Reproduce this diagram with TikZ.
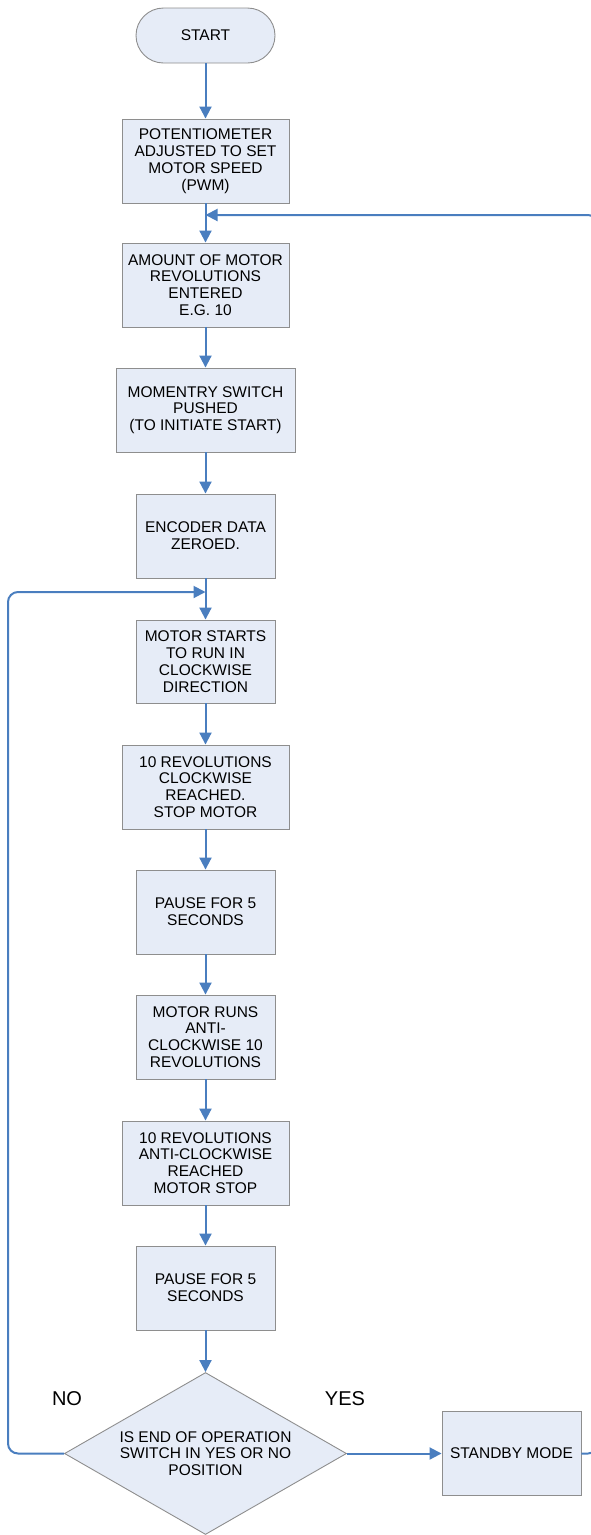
\documentclass[tikz,border=0pt]{standalone}
\usepackage{fontspec}
\setmainfont{Liberation Sans}
\usetikzlibrary{shapes.geometric,arrows.meta}
\definecolor{boxfill}{HTML}{E6ECF7}
\definecolor{boxline}{HTML}{8E8E8E}
\definecolor{flow}{HTML}{4A7EBF}
\tikzset{
  stepbox/.style={draw=boxline, fill=boxfill, line width=0.9pt, align=center, inner sep=0pt,
    font=\fontsize{15.5}{16.8}\selectfont, minimum height=84pt},
  termbox/.style={stepbox, rounded corners=27.5pt, minimum height=55pt, minimum width=139pt},
  decbox/.style={draw=boxline, fill=boxfill, line width=0.9pt, diamond, aspect=1.75, align=center,
    inner sep=0pt, minimum width=282pt, minimum height=162pt, font=\fontsize{15.5}{16.8}\selectfont},
  flowline/.style={draw=flow, line width=2pt, -{Triangle[length=12pt,width=12pt]}},
  lbl/.style={font=\fontsize{20}{22}\selectfont, inner sep=0pt}
}
\begin{document}
\begin{tikzpicture}[x=1pt,y=-1pt]
\useasboundingbox (0,0) rectangle (591,1535);
\node[termbox] (start) at (205.5,35.5) {START};
\node[stepbox, minimum width=167pt] (pot) at (205.5,161) {POTENTIOMETER\\ADJUSTED TO SET\\MOTOR SPEED\\(PWM)};
\node[stepbox, minimum width=167pt] (amt) at (205.5,285) {AMOUNT OF MOTOR\\REVOLUTIONS\\ENTERED\\E.G. 10};
\node[stepbox, minimum width=179pt] (mom) at (205.5,410) {MOMENTRY SWITCH\\PUSHED\\(TO INITIATE START)};
\node[stepbox, minimum width=139pt] (enc) at (205.5,536) {ENCODER DATA\\ZEROED.};
\node[stepbox, minimum width=139pt, minimum height=83pt] (cw) at (205.5,661.5) {MOTOR STARTS\\TO RUN IN\\CLOCKWISE\\DIRECTION};
\node[stepbox, minimum width=167pt] (cwr) at (205.5,787) {10 REVOLUTIONS\\CLOCKWISE\\REACHED.\\STOP MOTOR};
\node[stepbox, minimum width=139pt] (p1) at (205.5,912) {PAUSE FOR 5\\SECONDS};
\node[stepbox, minimum width=139pt] (acw) at (205.5,1037) {MOTOR RUNS\\ANTI-\\CLOCKWISE 10\\REVOLUTIONS};
\node[stepbox, minimum width=167pt] (acwr) at (205.5,1163) {10 REVOLUTIONS\\ANTI-CLOCKWISE\\REACHED\\MOTOR STOP};
\node[stepbox, minimum width=139pt] (p2) at (205.5,1288) {PAUSE FOR 5\\SECONDS};
\node[decbox] (dec) at (205.5,1453.5) {IS END OF OPERATION\\SWITCH IN YES OR NO\\POSITION};
\node[stepbox, minimum width=139pt] (stby) at (511.5,1453.5) {STANDBY MODE};
\node[lbl] (no) at (67,1399) {NO};
\node[lbl] (yes) at (345,1399) {YES};
\coordinate (topj) at (205.5,215);
\coordinate (botj) at (205.5,592);
\coordinate (rt) at (596,215);
\coordinate (lf) at (8,592);

\draw[flowline] (start) -- (pot);
\draw[flowline] (pot) -- (amt);
\draw[flowline] (amt) -- (mom);
\draw[flowline] (mom) -- (enc);
\draw[flowline] (enc) -- (cw);
\draw[flowline] (cw) -- (cwr);
\draw[flowline] (cwr) -- (p1);
\draw[flowline] (p1) -- (acw);
\draw[flowline] (acw) -- (acwr);
\draw[flowline] (acwr) -- (p2);
\draw[flowline] (p2) -- (dec);
\draw[flowline] (dec.east) -- (stby.west);
\draw[flowline, rounded corners=8pt] (stby.east) -- (596,1453.5) -- (rt) -- (topj);
\draw[flowline, rounded corners=10pt] (dec.west) -- (8,1453.5) -- (lf) -- (botj);
\end{tikzpicture}
\end{document}
